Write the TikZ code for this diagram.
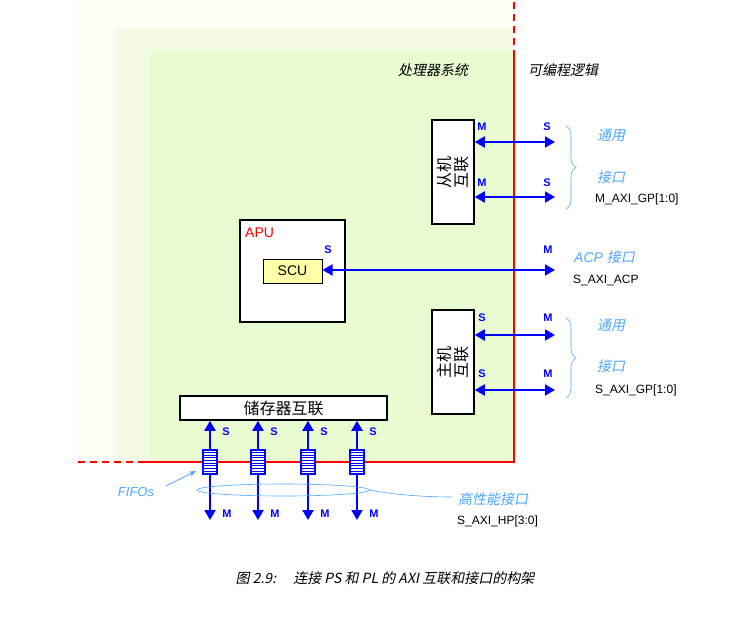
\documentclass[tikz,border=0pt]{standalone}
\usepackage{fontspec}
\setmainfont{Liberation Sans}
\newfontfamily\cjk{Noto Sans CJK SC}
\newfontfamily\cjki[FakeSlant=0.2]{Noto Sans CJK SC}
\usetikzlibrary{arrows.meta,decorations.pathreplacing}
\definecolor{bgA}{HTML}{FBFEF5}
\definecolor{bgB}{HTML}{F3FBE6}
\definecolor{bgC}{HTML}{E9FBD0}
\definecolor{lb}{HTML}{4DA6FF}
\definecolor{scuy}{HTML}{FFFFA8}
\tikzset{
 bus/.style={blue,line width=2pt,{Triangle[length=10pt,width=11pt]}-{Triangle[length=10pt,width=11pt]}},
 pl/.style={blue,font=\bfseries\fontsize{11}{11}\selectfont,inner sep=0pt},
 box/.style={draw=black,line width=1.5pt,fill=white,inner sep=0pt},
 note/.style={lb,font=\cjki\fontsize{14}{14}\selectfont,inner sep=0pt,anchor=west},
 sig/.style={black,font=\fontsize{12}{12}\selectfont,inner sep=0pt,anchor=west},
 fifo/.style={draw=blue,fill=white,line width=1.5pt,minimum width=14pt,minimum height=24pt,inner sep=0pt,
   path picture={\foreach \k in {1,...,8}{\draw[blue,line width=1pt]([yshift=\k*2.7pt]path picture bounding box.south west)--([yshift=\k*2.7pt]path picture bounding box.south east);}}}
}
\begin{document}
\begin{tikzpicture}[x=1pt,y=-1pt]
\useasboundingbox (0,0) rectangle (749,621);
\fill[bgA] (78,0) rectangle (514,462);
\fill[bgB] (115,28) rectangle (514,462);
\fill[bgC] (150,50) rectangle (514,462);
\draw[red,line width=1.8pt] (514,50) -- (514,462) -- (145,462);
\draw[red,line width=1.8pt,dash pattern=on 7pt off 5pt] (514,2) -- (514,50);
\draw[red,line width=1.8pt,dash pattern=on 7pt off 5pt] (78,462) -- (145,462);
\node[font=\cjki\fontsize{14}{14}\selectfont,anchor=west,inner sep=0pt] (ps) at (398,70) {处理器系统};
\node[font=\cjki\fontsize{14}{14}\selectfont,anchor=west,inner sep=0pt] (plb) at (528,70) {可编程逻辑};
% slave interconnect
\node[box,minimum width=42pt,minimum height=104pt] (sic) at (453,172) {};
\node[rotate=90,font=\cjk\fontsize{16}{17}\selectfont,align=center] (sict) at (453,172) {从机\\互联};
\node[box,minimum width=42pt,minimum height=104pt] (mic) at (453,362) {};
\node[rotate=90,font=\cjk\fontsize{16}{17}\selectfont,align=center] (mict) at (453,362) {主机\\互联};
\coordinate (s1) at (555,142); \coordinate (s2) at (555,197);
\coordinate (m1) at (555,335); \coordinate (m2) at (555,390);
\draw[bus] (sic.east |- s1) -- (s1);
\draw[bus] (sic.east |- s2) -- (s2);
\draw[bus] (mic.east |- m1) -- (m1);
\draw[bus] (mic.east |- m2) -- (m2);
\node[pl] (l1) at (482,127) {M}; \node[pl] (l2) at (547,127) {S};
\node[pl] (l3) at (482,183) {M}; \node[pl] (l4) at (547,183) {S};
\node[pl] (l5) at (482,318) {S}; \node[pl] (l6) at (548,318) {M};
\node[pl] (l7) at (482,374) {S}; \node[pl] (l8) at (548,374) {M};
\draw[lb,line width=0.6pt,decorate,decoration={brace,amplitude=10pt}] (566,126) -- (566,209);
\draw[lb,line width=0.6pt,decorate,decoration={brace,amplitude=10pt}] (566,318) -- (566,398);
\node[note] (t1) at (597,135) {通用};
\node[note] (t2) at (597,177) {接口};
\node[sig] (g1) at (595,199) {M\_AXI\_GP[1:0]};
\node[note] (t3) at (597,325) {通用};
\node[note] (t4) at (597,366) {接口};
\node[sig] (g2) at (595,390) {S\_AXI\_GP[1:0]};
% APU
\node[box,minimum width=105pt,minimum height=102pt] (apu) at (292.5,271) {};
\node[red,anchor=west,inner sep=0pt,font=\fontsize{14}{14}\selectfont] (apul) at (245,233) {APU};
\node[draw=black,line width=1pt,fill=scuy,minimum width=59pt,minimum height=24pt,inner sep=0pt,font=\fontsize{14}{14}\selectfont] (scu) at (292.5,271) {SCU};
\coordinate (acp) at (555,270);
\draw[bus] (scu.east |- acp) -- (acp);
\node[pl] (l9) at (328,250) {S}; \node[pl] (l10) at (548,250) {M};
\node[note,font=\itshape\fontsize{14}{14}\selectfont] (acpn) at (574,257) {ACP \cjki 接口};
\node[sig] (acps) at (573,280) {S\_AXI\_ACP};
% memory interconnect
\node[box,minimum width=207pt,minimum height=24pt,font=\cjk\fontsize{16}{16}\selectfont] (mem) at (283.5,408) {储存器互联};
\foreach \x [count=\i] in {210,258,308,357}{
  \coordinate (b\i) at (\x,520);
  \draw[bus] (b\i) -- (b\i |- mem.south);
  \node[fifo] (f\i) at (\x,462) {};
  \node[pl] (s\i) at (\x+16,432) {S};
  \node[pl] (mm\i) at (\x+17,514) {M};
}
\draw[lb,line width=0.6pt] (283,490) ellipse (86pt and 6pt);
\coordinate (hpc) at (452,497);
\draw[lb,line width=0.6pt] (369,490) .. controls (390,494) and (420,497) .. (hpc);
\node[note] (hp) at (458,499) {高性能接口};
\node[sig] (hps) at (457,521) {S\_AXI\_HP[3:0]};
\node[lb,font=\itshape\fontsize{13}{13}\selectfont,inner sep=0pt] (ff) at (136,492) {FIFOs};
\coordinate (fa) at (196,471);
\draw[lb,line width=0.7pt,-{Stealth[length=7pt]}] (166,486) -- (fa);
% caption
\node[font=\cjki\fontsize{14}{14}\selectfont,inner sep=0pt] (cap) at (385,578) {图 2.9:\quad\ 连接 PS 和 PL 的 AXI 互联和接口的构架};
\end{tikzpicture}
\end{document}
